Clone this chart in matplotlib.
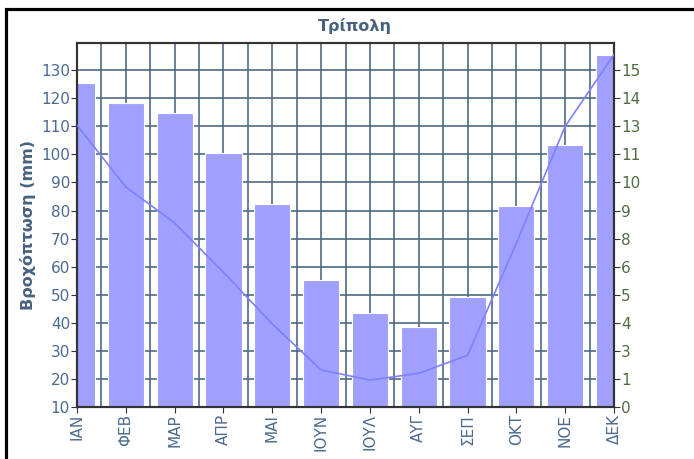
import numpy as np
import matplotlib.pyplot as plt
from matplotlib.patches import Rectangle

# Data
months = ['ΙΑΝ', 'ΦΕΒ', 'ΜΑΡ', 'ΑΠΡ', 'ΜΑΙ', 'ΙΟΥΝ', 'ΙΟΥΛ', 'ΑΥΓ', 'ΣΕΠ', 'ΟΚΤ', 'ΝΟΕ', 'ΔΕΚ']
rain_mm = [125.3, 118.4, 114.6, 100.6, 82.3, 55.2, 43.6, 38.4, 49.1, 81.6, 103.3, 135.4]
temp = [12.55, 9.8, 8.2, 6.0, 3.7, 1.65, 1.2, 1.5, 2.3, 7.3, 12.5, 15.7]
left_ticks = list(range(10, 131, 10))

grid_c = '#4e6a85'
left_c = '#4a6a8f'
right_c = '#4f6b3f'
title_c = '#46627f'

fig = plt.figure(figsize=(6.94, 4.59), dpi=100)
ax = fig.add_axes([77 / 694, 1 - 407 / 459, 537 / 694, 364 / 459])

x = np.arange(len(months))
ax.bar(x, rain_mm, width=0.74, color='#a0a0ff', edgecolor='white', linewidth=0.8, zorder=2)

ax.set_xlim(0, len(months) - 1)
ax.set_ylim(10, 139.7)
ax.set_yticks(left_ticks)
ax.set_xticks(x)
ax.set_xticklabels(months, rotation=90)
ax.set_xticks(np.arange(0.5, len(months) - 1, 1.0), minor=True)
ax.grid(True, which='both', axis='x', color=grid_c, linewidth=1.2, zorder=0)
ax.grid(True, which='major', axis='y', color=grid_c, linewidth=1.2, zorder=0)
ax.set_axisbelow(True)
ax.tick_params(axis='x', which='minor', length=0)
ax.tick_params(axis='both', which='major', length=4, color='#333333',
               labelsize=11, pad=1)
ax.tick_params(axis='y', labelcolor=left_c)
ax.tick_params(axis='x', labelcolor=left_c)
for s in ax.spines.values():
    s.set_color('#333333')
    s.set_linewidth(1.5)

ax.set_ylabel('Βροχόπτωση (mm)', color=title_c, fontsize=11.5, fontweight='bold', labelpad=4)
fig.text(355 / 694, 1 - 26 / 459, 'Τρίπολη', color=title_c, fontsize=11.5,
         fontweight='bold', ha='center', va='center')

# right axis: same gridlines relabelled as (mm - 10) / 8
ax2 = ax.twinx()
ax2.set_ylim(0, (139.7 - 10) / 8)
rt = [(v - 10) / 8 for v in left_ticks]
ax2.set_yticks(rt)
ax2.set_yticklabels([str(int(np.floor(r + 0.5))) for r in rt])
ax2.tick_params(axis='y', length=4, color='#333333', labelcolor=right_c, labelsize=11, pad=1)
ax2.plot(x, temp, color='#8080ff', linewidth=1.2, zorder=3)
for s in ax2.spines.values():
    s.set_color('#333333')
    s.set_linewidth(1.5)

# black frame around the image
fig.patches.append(Rectangle((5.5 / 694, -0.1), 1.2, 1 - 9.5 / 459 + 0.1,
                             transform=fig.transFigure, fill=False,
                             edgecolor='black', linewidth=2.3, clip_on=False))

fig.savefig('out.png', dpi=100)
